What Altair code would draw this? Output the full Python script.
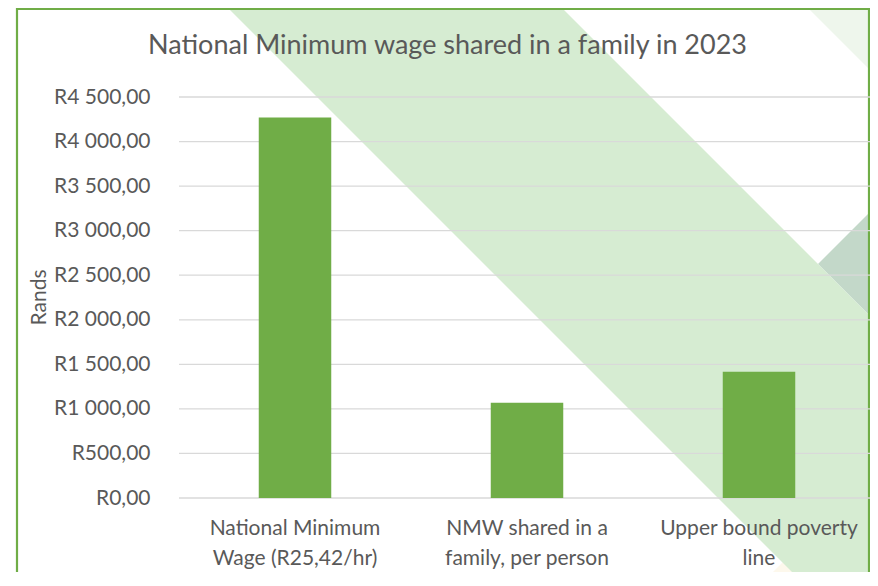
import altair as alt
import pandas as pd

# ---- chart data ----
categories = [
    "National Minimum\nWage (R25,42/hr)",
    "NMW shared in a\nfamily, per person",
    "Upper bound poverty\nline",
]
values = [4270.56, 1067.64, 1417.00]
tick_values = [0, 500, 1000, 1500, 2000, 2500, 3000, 3500, 4000, 4500]
chart_title = "National Minimum wage shared in a family in 2023"
y_title = "Rands"

# ---- background artwork (slide decoration, page pixels) ----
band_x = [200, 534, 826, 890]
band_top = [-20, -20, 272, 336]
band_bot = [-20, 314, 606, 606]
pale_x = [780, 890]
pale_top = [-20, -20]
pale_bot = [-20, 90]
dark_x = [818, 890]
dark_top = [264, 192]
dark_bot = [264, 336]
cream_x = [739, 890]
cream_top = [606, 455]
cream_bot = [606, 606]

FONT = "Lato"
TXT = "#595959"
GREEN = "#70AD47"

PLOT_W = 691  # visible plot area: page x 179..870
# page-pixel scales for the decoration layer (plot area spans x 179..870, y 97..498)
dx_scale = alt.Scale(domain=[179, 179 + PLOT_W], nice=False, zero=False)
dy_scale = alt.Scale(domain=[97, 498], reverse=True, nice=False, zero=False)


def deco_area(xs, tops, bots, color):
    df = pd.DataFrame({"x": xs, "y": tops, "y2": bots})
    return alt.Chart(df).mark_area(color=color, opacity=1, clip=False).encode(
        x=alt.X("x:Q", scale=dx_scale, axis=None),
        y=alt.Y("y:Q", scale=dy_scale, axis=None),
        y2="y2:Q",
    )


pale = deco_area(pale_x, pale_top, pale_bot, "#EEF6EC")
dark = deco_area(dark_x, dark_top, dark_bot, "#C3D8C9")
cream = deco_area(cream_x, cream_top, cream_bot, "#FDF8EC")
band = deco_area(band_x, band_top, band_bot, "#D6ECD2")

frame_df = pd.DataFrame({"x": [17], "x2": [869], "y": [9], "y2": [640]})
frame = alt.Chart(frame_df).mark_rect(
    fillOpacity=0, stroke=GREEN, strokeWidth=2.2, clip=False
).encode(
    x=alt.X("x:Q", scale=dx_scale, axis=None),
    x2="x2:Q",
    y=alt.Y("y:Q", scale=dy_scale, axis=None),
    y2="y2:Q",
)

title_df = pd.DataFrame({"x": [447.5], "y": [54], "t": [chart_title]})
title = alt.Chart(title_df).mark_text(
    font=FONT, fontSize=27, color=TXT, align="center", baseline="alphabetic", clip=False
).encode(
    x=alt.X("x:Q", scale=dx_scale, axis=None),
    y=alt.Y("y:Q", scale=dy_scale, axis=None),
    text="t:N",
)

deco = alt.layer(pale, dark, cream, band, frame, title)

# ---- main chart ----
y_scale = alt.Scale(domain=[0, 4500], nice=False, zero=True)
y_axis = alt.Axis(
    values=tick_values,
    labelExpr="'R' + replace(replace(format(datum.value, ',.2f'), ',', ' '), '.', ',')",
    grid=False,
    domain=False,
    ticks=False,
    tickSize=0,
    labelPadding=29,
    labelFont=FONT,
    labelFontSize=21,
    labelColor=TXT,
    title=y_title,
    titleFont=FONT,
    titleFontSize=21,
    titleFontWeight="normal",
    titleColor=TXT,
    titleAngle=270,
    titleAlign="center",
    titleBaseline="alphabetic",
    titleX=-134,
    titleY=200,
    zindex=1,
)

grid_df = pd.DataFrame({"v": tick_values})
rules = alt.Chart(grid_df).mark_rule(color="#D9D9D9", strokeWidth=1.3).encode(
    y=alt.Y("v:Q", scale=y_scale, axis=y_axis)
)

bar_df = pd.DataFrame({"cat": categories, "val": values})
bars = alt.Chart(bar_df).mark_bar(color=GREEN).encode(
    x=alt.X(
        "cat:N",
        sort=categories,
        scale=alt.Scale(paddingInner=0.6875, paddingOuter=0.34375, range=[0, 696]),
        axis=alt.Axis(
            labelAngle=0,
            labelExpr="split(datum.label, '\\n')",
            labelFont=FONT,
            labelFontSize=21,
            labelColor=TXT,
            labelLineHeight=30,
            labelPadding=19,
            labelLimit=400,
            domain=False,
            ticks=False,
            tickSize=0,
            grid=False,
            title=None,
            zindex=1,
        ),
    ),
    y=alt.Y("val:Q", scale=y_scale, axis=y_axis),
)

main = alt.layer(rules, bars)

chart = (
    alt.layer(deco, main)
    .resolve_scale(x="independent", y="independent")
    .properties(
        width=PLOT_W,
        height=401,
        padding={"left": 171, "right": 0, "top": 89, "bottom": 74},
        autosize=alt.AutoSizeParams(type="none"),
        background="white",
    )
    .configure_view(strokeWidth=0)
)

chart.save("out.html", embed_options={"renderer": "svg", "actions": False})
